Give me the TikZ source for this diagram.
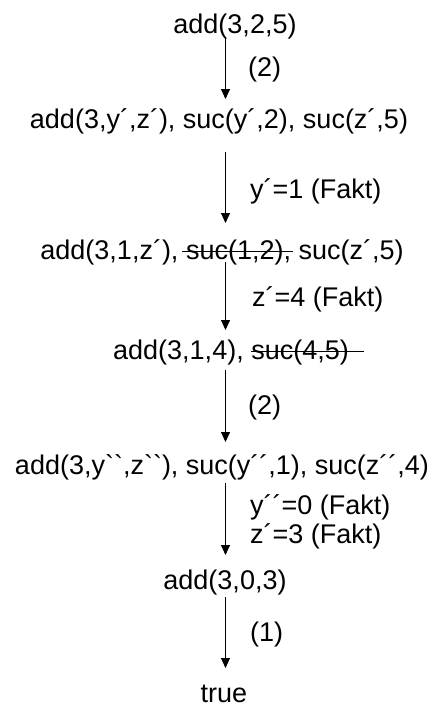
\documentclass[tikz,border=0pt]{standalone}
\usepackage{fontspec}
\newfontfamily\rawfont{Liberation Sans}
\usetikzlibrary{arrows.meta}
% strike: extra before, extra after, text
\newcommand\strk[3]{\sbox0{#3}\rlap{\kern-#1\rule[0.26em]{\dimexpr\wd0+#1+#2\relax}{0.9pt}}\usebox0}
\tikzset{
  term/.style={inner sep=0pt, anchor=base, font=\rawfont\fontsize{27pt}{30pt}\selectfont},
  lbl/.style={inner sep=0pt, anchor=base west, font=\rawfont\fontsize{27pt}{30pt}\selectfont},
  arr/.style={line width=0.9pt, -{Triangle[width=9pt,length=10pt]}}
}
\begin{document}
\begin{tikzpicture}[x=1pt,y=-1pt]
\useasboundingbox (0,0) rectangle (437,707);
\coordinate (ax) at (225.5,0);
\node[term] (n1) at (235,33) {add(3,2,5)};
\node[term] (n2) at (219,128) {add(3,y´,z´), suc(y´,2), suc(z´,5)};
\node[term] (n3) at (222,259) {add(3,1,z´), \strk{4pt}{2pt}{suc(1,2),} suc(z´,5)};
\node[term] (n4) at (231,359) {add(3,1,4), \strk{0pt}{15pt}{suc(4,5)}};
\node[term] (n5) at (222,474) {add(3,y``,z``), suc(y´´,1), suc(z´´,4)};
\node[term] (n6) at (225,589) {add(3,0,3)};
\node[term] (n7) at (224,702) {true};
\node[lbl] (l1) at (248,76) {(2)};
\node[lbl] (l2) at (250,198) {y´=1 (Fakt)};
\node[lbl] (l3) at (252,306) {z´=4 (Fakt)};
\node[lbl] (l4) at (248,414) {(2)};
\node[lbl] (l5) at (250,514) {y´´=0 (Fakt)};
\node[lbl] (l6) at (250,543) {z´=3 (Fakt)};
\node[lbl] (l7) at (250,641) {(1)};
\draw[arr, shorten <=5pt, shorten >=29pt] (n1.base -| ax) -- (n2.base -| ax);
\draw[arr, shorten <=24pt, shorten >=36pt] (n2.base -| ax) -- (n3.base -| ax);
\draw[arr, shorten <=3pt, shorten >=29pt] (n3.base -| ax) -- (n4.base -| ax);
\draw[arr, shorten <=11pt, shorten >=32pt] (n4.base -| ax) -- (n5.base -| ax);
\draw[arr, shorten <=9pt, shorten >=34pt] (n5.base -| ax) -- (n6.base -| ax);
\draw[arr, shorten <=8pt, shorten >=34pt] (n6.base -| ax) -- (n7.base -| ax);
\end{tikzpicture}
\end{document}
